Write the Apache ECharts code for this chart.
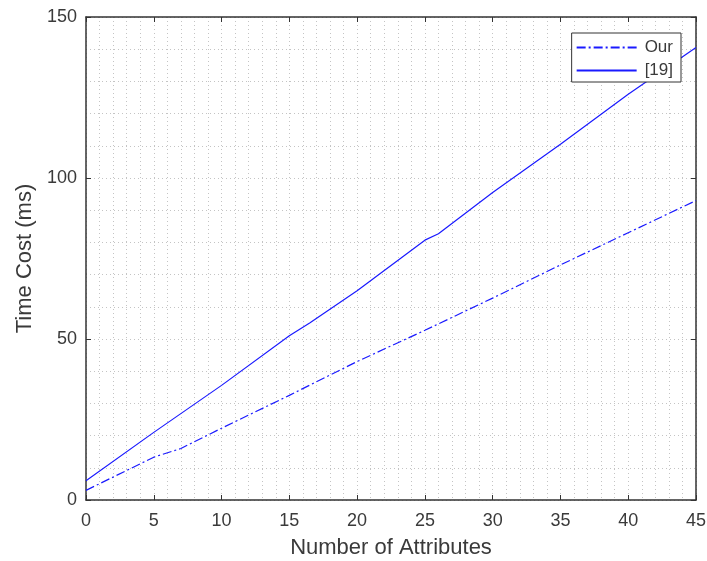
<!DOCTYPE html>
<html>
<head>
<meta charset="utf-8">
<script src="https://cdn.jsdelivr.net/npm/echarts@6/dist/echarts.min.js"></script>
<style>
  html, body { margin: 0; padding: 0; background: #fff; }
  #main { width: 707px; height: 561px; }
</style>
</head>
<body>
<div id="main"></div>
<script>
// x positions (number of attributes) and the values
const attrsOur = [0, 5, 7, 10, 15, 20, 25, 30, 35, 40, 45];
const timeOur = [3, 13.3, 16, 22.3, 32.5, 43, 52.7, 62.7, 73, 83, 93];
const attrsRef = [0, 5, 10, 15, 16.5, 20, 25, 26, 30, 35, 40, 45];
const timeRef = [6, 21, 35.6, 51, 55, 65, 80.7, 82.7, 95.5, 110.5, 126, 140.5];
const seriesNames = ["Our", "[19]"];

const font = "Liberation Sans";
const textColor = "#3a3a3a";
const gridDot = { color: "#c4c4c4", type: [1, 3], width: 1 };

const pairs = (xs, ys) => xs.map((x, i) => [x, ys[i]]);

const chart = echarts.init(document.getElementById("main"));

// frame line + inward ticks, shared by all four sides
const frameLine = { show: true, onZero: false, lineStyle: { color: "#333", width: 1.5 } };
const inTicks = { show: true, inside: true, length: 5, lineStyle: { color: "#333" } };

chart.setOption({
  animation: false,
  textStyle: { fontFamily: font },
  grid: { left: 86, right: 11, top: 17, bottom: 61, outerBoundsMode: "none" },
  legend: {
    data: seriesNames,
    orient: "vertical",
    right: 26,
    top: 33,
    itemWidth: 60,
    itemHeight: 14,
    itemGap: 6,
    padding: [6, 8, 3, 4],
    backgroundColor: "#fff",
    borderColor: "#333",
    borderWidth: 1,
    itemStyle: { color: "rgba(0,0,0,0)", borderWidth: 0 },
    textStyle: { fontSize: 17, color: textColor, fontFamily: font, padding: [0, 0, 0, 3] }
  },
  xAxis: [
    {
      type: "value", min: 0, max: 45, interval: 5,
      position: "bottom",
      name: "Number of Attributes",
      nameLocation: "middle",
      nameGap: 37,
      nameTextStyle: { fontSize: 22, color: textColor },
      axisLine: frameLine,
      axisTick: inTicks,
      axisLabel: { fontSize: 18, color: textColor, margin: 12 },
      splitLine: { show: true, lineStyle: gridDot },
      minorTick: { show: false, splitNumber: 5 },
      minorSplitLine: { show: true, lineStyle: gridDot }
    },
    {
      type: "value", min: 0, max: 45, interval: 5,
      position: "top",
      axisLine: frameLine,
      axisTick: inTicks,
      axisLabel: { show: false },
      splitLine: { show: false }
    }
  ],
  yAxis: [
    {
      type: "value", min: 0, max: 150, interval: 50,
      position: "left",
      name: "Time Cost (ms)",
      nameLocation: "middle",
      nameGap: 50,
      nameTextStyle: { fontSize: 22, color: textColor },
      axisLine: frameLine,
      axisTick: inTicks,
      axisLabel: { fontSize: 18, color: textColor, margin: 9 },
      splitLine: { show: true, lineStyle: gridDot },
      minorTick: { show: false, splitNumber: 5 },
      minorSplitLine: { show: true, lineStyle: gridDot }
    },
    {
      type: "value", min: 0, max: 150, interval: 50,
      position: "right",
      axisLine: frameLine,
      axisTick: inTicks,
      axisLabel: { show: false },
      splitLine: { show: false }
    }
  ],
  series: [
    {
      name: seriesNames[0],
      type: "line",
      data: pairs(attrsOur, timeOur),
      showSymbol: false,
      symbol: "none",
      lineStyle: { color: "#1a1aff", width: 1.2, type: [9, 3, 2, 3] },
      itemStyle: { color: "#1a1aff" }
    },
    {
      name: seriesNames[1],
      type: "line",
      data: pairs(attrsRef, timeRef),
      showSymbol: false,
      symbol: "none",
      lineStyle: { color: "#1a1aff", width: 1.2 },
      itemStyle: { color: "#1a1aff" }
    }
  ]
});
</script>
</body>
</html>
